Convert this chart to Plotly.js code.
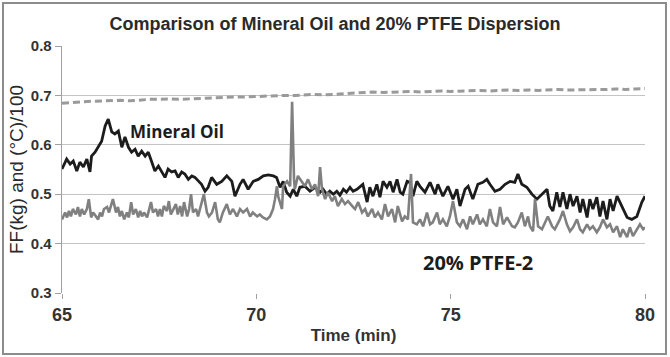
<!DOCTYPE html>
<html>
<head>
<meta charset="utf-8">
<script src="https://cdn.plot.ly/plotly-3.0.1.min.js"></script>
<style>html,body{margin:0;padding:0;background:#fff;}#chart{width:670px;height:357px;}</style>
</head>
<body>
<div id="chart"></div>
<script>
// Temperature (°C)/100 — dashed line
const tempTime = [65.00,65.25,65.50,65.75,66.00,66.25,66.50,66.75,67.00,67.25,
  67.50,67.75,68.00,68.25,68.50,68.75,69.00,69.25,69.50,69.75,
  70.00,70.25,70.50,70.75,71.00,71.25,71.50,71.75,72.00,72.25,
  72.50,72.75,73.00,73.25,73.50,73.75,74.00,74.25,74.50,74.75,
  75.00,75.25,75.50,75.75,76.00,76.25,76.50,76.75,77.00,77.25,
  77.50,77.75,78.00,78.25,78.50,78.75,79.00,79.25,79.50,79.75,80.00];
const tempValue = [0.684,0.686,0.687,0.688,0.689,0.690,0.690,0.689,0.691,0.692,
  0.692,0.693,0.692,0.693,0.694,0.695,0.695,0.696,0.697,0.697,
  0.698,0.699,0.699,0.700,0.700,0.701,0.702,0.701,0.702,0.703,
  0.704,0.706,0.707,0.706,0.707,0.707,0.708,0.707,0.708,0.709,
  0.708,0.709,0.709,0.710,0.709,0.710,0.711,0.710,0.711,0.710,
  0.711,0.712,0.711,0.711,0.712,0.711,0.712,0.713,0.712,0.713,0.714];

// Mineral Oil — black line
const oilTime = [65.00,65.12,65.21,65.29,65.38,65.46,65.55,65.64,65.72,65.76,
  65.85,65.93,66.02,66.11,66.19,66.28,66.36,66.45,66.54,66.62,
  66.71,66.79,66.88,66.96,67.05,67.14,67.22,67.31,67.39,67.48,
  67.57,67.65,67.73,67.82,67.91,67.99,68.08,68.16,68.25,68.34,
  68.42,68.51,68.59,68.68,68.76,68.85,68.98,69.11,69.24,69.37,
  69.45,69.58,69.66,69.79,69.92,70.05,70.18,70.31,70.44,70.52,
  70.61,70.69,70.78,70.87,70.95,71.04,71.12,71.25,71.38,71.51,
  71.64,71.72,71.81,71.89,71.98,72.07,72.15,72.24,72.32,72.41,
  72.49,72.59,72.74,72.85,72.92,73.00,73.10,73.18,73.26,73.36,
  73.44,73.52,73.62,73.70,73.77,73.88,73.95,74.03,74.13,74.21,
  74.34,74.47,74.60,74.67,74.80,74.93,75.06,75.16,75.24,75.37,
  75.45,75.57,75.70,75.83,75.93,76.01,76.14,76.27,76.40,76.53,
  76.65,76.73,76.83,76.96,77.09,77.22,77.35,77.48,77.55,77.63,
  77.73,77.81,77.89,77.99,78.07,78.15,78.25,78.33,78.40,78.51,
  78.58,78.66,78.76,78.84,78.92,79.02,79.10,79.18,79.28,79.41,
  79.54,79.66,79.79,79.92,80.00];
const oilValue = [0.551,0.571,0.561,0.567,0.547,0.565,0.555,0.571,0.545,0.577,
  0.585,0.595,0.607,0.638,0.652,0.626,0.622,0.628,0.595,0.616,
  0.595,0.585,0.591,0.577,0.587,0.577,0.585,0.565,0.547,0.557,
  0.545,0.534,0.551,0.545,0.547,0.534,0.545,0.541,0.530,0.537,
  0.534,0.526,0.520,0.506,0.514,0.534,0.520,0.526,0.537,0.526,
  0.496,0.520,0.530,0.510,0.526,0.530,0.537,0.539,0.537,0.534,
  0.514,0.526,0.504,0.496,0.510,0.496,0.514,0.516,0.506,0.514,
  0.504,0.510,0.500,0.506,0.500,0.506,0.498,0.510,0.504,0.514,
  0.506,0.510,0.520,0.484,0.514,0.496,0.520,0.494,0.526,0.514,
  0.526,0.504,0.530,0.504,0.500,0.526,0.524,0.496,0.526,0.516,
  0.504,0.524,0.500,0.520,0.496,0.516,0.490,0.510,0.476,0.510,
  0.516,0.490,0.520,0.524,0.530,0.520,0.506,0.510,0.520,0.526,
  0.524,0.541,0.520,0.514,0.500,0.490,0.500,0.510,0.476,0.466,
  0.504,0.474,0.504,0.470,0.500,0.476,0.496,0.463,0.490,0.453,
  0.490,0.470,0.494,0.455,0.486,0.449,0.490,0.466,0.496,0.476,
  0.453,0.449,0.455,0.484,0.496];

// 20% PTFE-2 — gray line
const ptfeTime = [65.00,65.08,65.13,65.18,65.23,65.28,65.36,65.41,65.46,65.51,
  65.57,65.64,65.69,65.75,65.80,65.87,65.93,65.98,66.03,66.08,
  66.16,66.21,66.26,66.31,66.39,66.44,66.49,66.54,66.60,66.67,
  66.72,66.78,66.83,66.90,66.96,67.01,67.06,67.11,67.19,67.24,
  67.29,67.34,67.42,67.47,67.52,67.57,67.62,67.70,67.75,67.80,
  67.86,67.93,67.98,68.04,68.09,68.14,68.22,68.27,68.32,68.37,
  68.45,68.50,68.55,68.60,68.65,68.73,68.78,68.86,68.94,69.01,
  69.06,69.14,69.24,69.32,69.40,69.50,69.58,69.66,69.76,69.84,
  69.91,70.02,70.09,70.17,70.27,70.35,70.43,70.48,70.53,70.56,
  70.66,70.69,70.79,70.87,70.92,70.97,70.99,71.07,71.17,71.25,
  71.33,71.43,71.51,71.59,71.64,71.69,71.77,71.84,71.95,72.02,
  72.10,72.20,72.28,72.36,72.49,72.54,72.62,72.72,72.80,72.87,
  72.98,73.05,73.13,73.23,73.31,73.39,73.49,73.57,73.64,73.75,
  73.82,73.90,73.98,74.03,74.13,74.21,74.29,74.39,74.47,74.54,
  74.65,74.72,74.80,74.90,74.98,75.06,75.16,75.24,75.32,75.42,
  75.50,75.57,75.68,75.75,75.83,75.93,76.01,76.09,76.19,76.27,
  76.35,76.45,76.58,76.65,76.73,76.83,76.91,76.99,77.04,77.12,
  77.17,77.25,77.35,77.43,77.50,77.61,77.68,77.81,77.89,77.99,
  78.07,78.15,78.25,78.33,78.40,78.51,78.58,78.66,78.76,78.84,
  78.92,79.02,79.10,79.18,79.28,79.36,79.43,79.54,79.61,79.69,
  79.79,79.87,79.95,80.00];
const ptfeValue = [0.449,0.463,0.453,0.466,0.455,0.470,0.459,0.474,0.455,0.470,
  0.459,0.470,0.490,0.453,0.463,0.455,0.449,0.463,0.455,0.470,
  0.474,0.463,0.476,0.490,0.463,0.474,0.455,0.466,0.449,0.463,
  0.453,0.484,0.459,0.470,0.453,0.466,0.455,0.463,0.453,0.470,
  0.484,0.463,0.470,0.455,0.470,0.455,0.476,0.466,0.486,0.459,
  0.470,0.480,0.459,0.476,0.455,0.484,0.455,0.470,0.500,0.463,
  0.470,0.455,0.470,0.484,0.500,0.463,0.455,0.463,0.484,0.449,
  0.443,0.463,0.480,0.459,0.470,0.455,0.470,0.463,0.470,0.455,
  0.463,0.455,0.459,0.453,0.449,0.455,0.470,0.490,0.516,0.496,
  0.470,0.516,0.526,0.516,0.687,0.530,0.510,0.537,0.526,0.516,
  0.530,0.510,0.520,0.496,0.555,0.510,0.490,0.504,0.486,0.496,
  0.476,0.490,0.480,0.486,0.474,0.470,0.484,0.463,0.470,0.455,
  0.470,0.453,0.463,0.449,0.480,0.455,0.470,0.443,0.476,0.445,
  0.455,0.449,0.541,0.443,0.439,0.449,0.435,0.463,0.439,0.443,
  0.463,0.439,0.449,0.435,0.455,0.486,0.443,0.435,0.449,0.429,
  0.455,0.439,0.459,0.439,0.449,0.435,0.470,0.443,0.435,0.474,
  0.439,0.453,0.435,0.433,0.443,0.463,0.435,0.455,0.435,0.425,
  0.490,0.435,0.429,0.443,0.455,0.435,0.429,0.449,0.466,0.439,
  0.425,0.433,0.449,0.429,0.423,0.439,0.429,0.435,0.423,0.433,
  0.449,0.433,0.439,0.423,0.435,0.413,0.429,0.413,0.433,0.415,
  0.429,0.439,0.429,0.433];

const xTicks = [65, 70, 75, 80];
const yTicks = [0.3, 0.4, 0.5, 0.6, 0.7, 0.8];
const yTickText = ['0.3', '0.4', '0.5', '0.6', '0.7', '0.8'];

const traces = [
  {x: tempTime, y: tempValue, type: 'scatter', mode: 'lines', name: 'Temp/100',
   line: {color: '#9a9a9a', width: 3, dash: '7px,4px'}, hoverinfo: 'skip'},
  {x: oilTime, y: oilValue, type: 'scatter', mode: 'lines', name: 'Mineral Oil',
   line: {color: '#1c1c1c', width: 2.8}, hoverinfo: 'skip'},
  {x: ptfeTime, y: ptfeValue, type: 'scatter', mode: 'lines', name: '20% PTFE-2',
   line: {color: '#808080', width: 2.6}, hoverinfo: 'skip'}
];

const layout = {
  width: 670, height: 357,
  margin: {l: 62, r: 25, t: 46, b: 64, pad: 0},
  paper_bgcolor: '#ffffff', plot_bgcolor: '#ffffff',
  showlegend: false,
  font: {family: 'Liberation Sans, Arial, sans-serif', color: '#333333'},
  title: {text: 'Comparison of Mineral Oil and 20% PTFE Dispersion',
          font: {family: 'Liberation Sans, Arial, sans-serif', size: 18, weight: 'bold', color: '#2a2a2a'},
          x: 0.5, xanchor: 'center', y: 0.935, yanchor: 'middle'},
  xaxis: {range: [65, 80], tickvals: xTicks, ticktext: xTicks.map(String),
          ticks: 'outside', ticklen: 5, tickcolor: '#a0a0a0', tickwidth: 1,
          showgrid: false, zeroline: false, showline: false,
          tickfont: {size: 18, weight: 'bold', color: '#333333'},
          title: {text: 'Time (min)', standoff: 5, font: {size: 17, weight: 'bold', color: '#333333'}}},
  yaxis: {range: [0.3, 0.8], tickvals: yTicks, ticktext: yTickText,
          ticks: 'outside', ticklen: 6, tickcolor: '#a0a0a0', tickwidth: 1,
          showgrid: true, gridcolor: '#c4c4c4', gridwidth: 1.3,
          zeroline: false, showline: true, linecolor: '#a0a0a0', linewidth: 1.3,
          tickfont: {size: 15, weight: 'bold', color: '#333333'},
          title: {text: 'FF(kg) and (°C)/100', standoff: 2, font: {size: 19, color: '#2a2a2a'}}},
  annotations: [
    {x: 67.96, y: 0.626, xref: 'x', yref: 'y', text: 'Mineral Oil', showarrow: false,
     font: {family: 'Open Sans, DejaVu Sans, sans-serif', size: 17, weight: 'bold', color: '#1c1c1c'}},
    {x: 75.70, y: 0.362, xref: 'x', yref: 'y', text: '20% PTFE-2', showarrow: false,
     font: {family: 'Open Sans, DejaVu Sans, sans-serif', size: 20, weight: 'bold', color: '#1c1c1c'}}
  ],
  shapes: [
    {type: 'rect', xref: 'paper', yref: 'paper', x0: -0.1012, x1: 1.036, y0: -0.247, y1: 1.174,
     line: {color: '#8c8c8c', width: 2}, fillcolor: 'rgba(0,0,0,0)', layer: 'below'}
  ]
};

Plotly.newPlot('chart', traces, layout, {staticPlot: true, displayModeBar: false});
</script>
</body>
</html>
